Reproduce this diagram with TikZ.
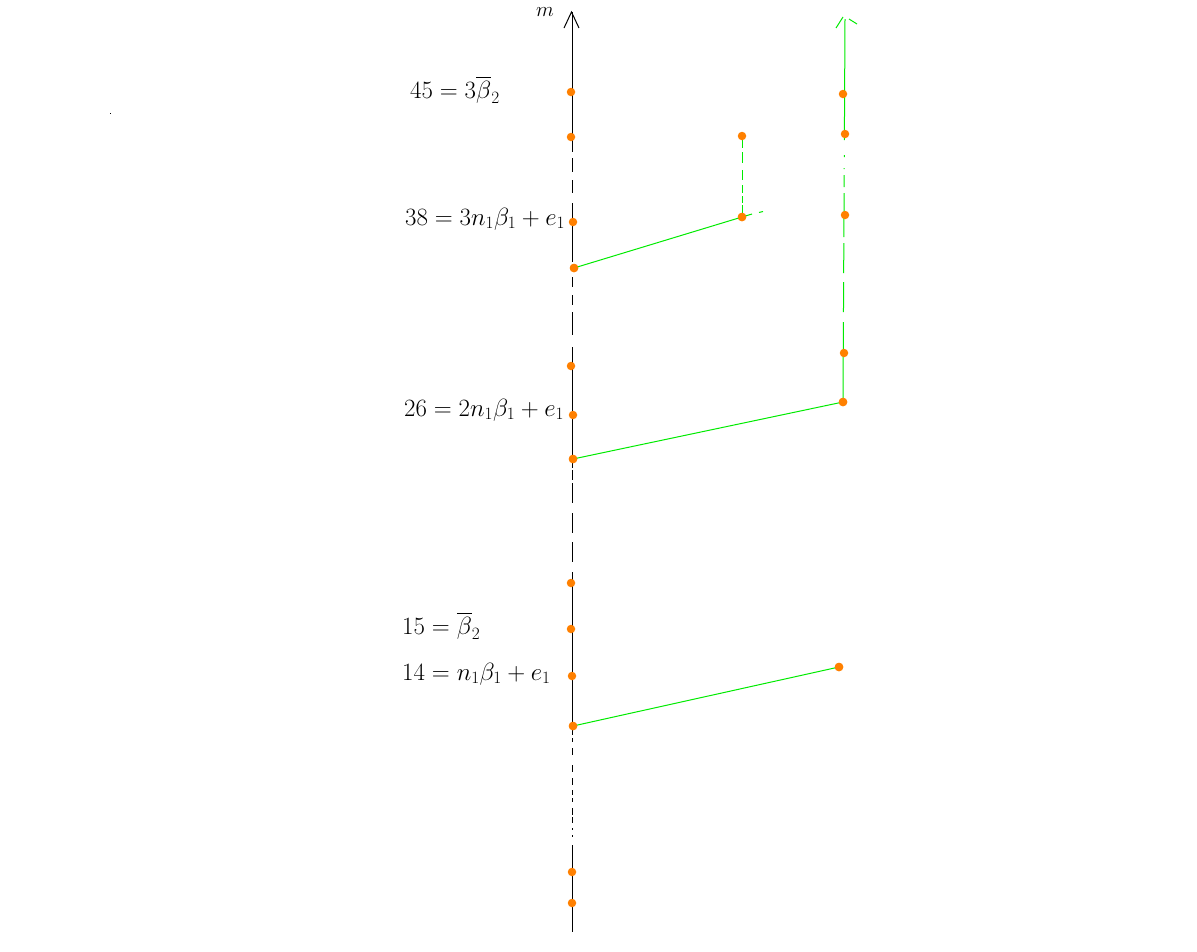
\documentclass[tikz,border=0pt]{standalone}
\usepackage{amsmath}
\definecolor{gr}{RGB}{0,235,0}
\definecolor{orng}{RGB}{255,128,0}
\begin{document}
\begin{tikzpicture}[x=1pt,y=-1pt,
  axisline/.style={black,line width=1pt},
  gline/.style={gr,line width=1pt},
  dotn/.style={circle,fill=orng,inner sep=0pt,minimum size=8.5pt},
  lab/.style={anchor=west,inner sep=0pt,font=\fontsize{23}{27}\selectfont},
  mlab/.style={anchor=west,inner sep=0pt,font=\fontsize{21}{25}\selectfont}]
\useasboundingbox (0,0) rectangle (1197,951);
% black axis
\foreach \a/\b in {12/152,158/172,180/193,203/262,277/287,295/305,312/335,347/468,470/480,483/503,513/533,542/562,572/583,583/735,738/742,748/755,765/772,778/785,790/795,798/802,808/815,817/823,828/830,835/837,845/932}
  \draw[axisline] (572,\a) -- (572,\b);
\coordinate (tipm) at (571.5,12);
\draw[black,line width=1pt] (564,28) -- (tipm) -- (579,28);
\node[mlab] (m) at (536,12.5) {$m$};
% green right vertical
\foreach \a/\b in {19/140,155/157,168/169,175/187,193/237,243/273,282/312,322/402}
  \draw[gline] ({845-2*(\a-19)/383},\a) -- ({845-2*(\b-19)/383},\b);
\coordinate (gtip) at (843,17);
\draw[gline] (836,28) -- (gtip);
\draw[gline] (849,19) -- (857,24);
% green left vertical (dashed)
\foreach \a/\b in {140/148,152/163,170/180,185/193,196/203,205/217}
  \draw[gline] (742,\a) -- (742,\b);
% dots
\node[dotn] (a45) at (571,92) {};
\node[dotn] (a42) at (571,137) {};
\node[dotn] (a38) at (573,222) {};
\node[dotn] (a37) at (574,268) {};
\node[dotn] (a27) at (571,366) {};
\node[dotn] (a26) at (573,415) {};
\node[dotn] (a25) at (573,459) {};
\node[dotn] (a16) at (571,583) {};
\node[dotn] (a15) at (571,629) {};
\node[dotn] (a14) at (572,676) {};
\node[dotn] (a13) at (573,726) {};
\node[dotn] (a2) at (572,872) {};
\node[dotn] (a1) at (572,903) {};
\node[dotn] (b1) at (742,136) {};
\node[dotn] (b2) at (742,217) {};
\node[dotn] (c1) at (843,94) {};
\node[dotn] (c2) at (845,134) {};
\node[dotn] (c3) at (845,215) {};
\node[dotn] (c4) at (844,353) {};
\node[dotn] (c5) at (843,402) {};
\node[dotn] (d1) at (839,667) {};
% green slanted lines
\coordinate (e1) at (752,214);
\coordinate (e2) at (759,212.5);
\coordinate (e3) at (763,211.5);
\draw[gline] (a37.center) -- (b2.center) -- (e1);
\draw[gline] (e2) -- (e3);
\draw[gline] (a25.center) -- (c5.center);
\draw[gline] (a13.center) -- (d1.center);
% redraw dots on top
\foreach \n in {a37,b2,a25,c5,a13,d1}
  \fill[orng] (\n) circle (4.25pt);
% labels
\node[lab] (l45) at (410,90) {$45=3\overline{\beta}_2$};
\node[lab] (l38) at (405,219) {$38=3n_1\beta_1+e_1$};
\node[lab] (l26) at (404,410) {$26=2n_1\beta_1+e_1$};
\node[lab] (l15) at (402,626) {$15=\overline{\beta}_2$};
\node[lab] (l14) at (402,674) {$14=n_1\beta_1+e_1$};
% stray dot
\fill[black] (109.5,112.5) rectangle (110.5,113.5);
\end{tikzpicture}
\end{document}
